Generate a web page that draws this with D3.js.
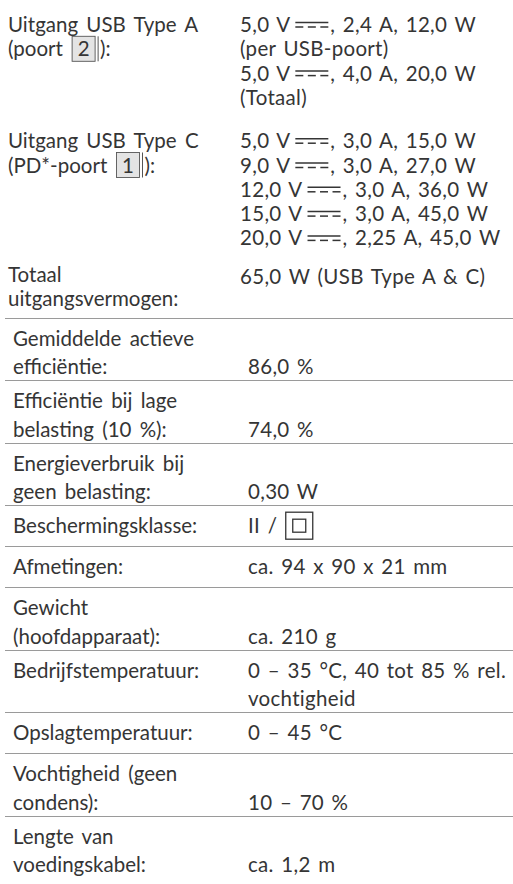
<!DOCTYPE html>
<html>
<head>
<meta charset="utf-8">
<script src="https://cdn.jsdelivr.net/npm/d3@7"></script>
<style>
  html, body { margin: 0; padding: 0; background: #fff; }
  svg text { font-family: Lato, "Noto Sans", sans-serif; font-size: 20.5px; fill: #353535; }
  svg text.lab { word-spacing: 3px; }
  svg text.val { letter-spacing: 0.3px; word-spacing: 2px; }
</style>
</head>
<body>
<svg id="spec"></svg>
<script>
// {2} = boxed port number, ~ = DC symbol, [K2] = protection class II symbol
const topLabels = [
  ["Uitgang USB Type A", "(poort {2}):"],
  ["Uitgang USB Type C", "(PD*-poort {1}):"],
  ["Totaal", "uitgangsvermogen:"],
];
const topValues = [
  ["5,0 V~, 2,4 A, 12,0 W", "(per USB-poort)", "5,0 V~, 4,0 A, 20,0 W", "(Totaal)"],
  ["5,0 V~, 3,0 A, 15,0 W", "9,0 V~, 3,0 A, 27,0 W", "12,0 V~, 3,0 A, 36,0 W",
   "15,0 V~, 3,0 A, 45,0 W", "20,0 V~, 2,25 A, 45,0 W"],
  ["65,0 W (USB Type A & C)"],
];
const specLabels = [
  ["Gemiddelde actieve", "efficiëntie:"],
  ["Efficiëntie bij lage", "belasting (10 %):"],
  ["Energieverbruik bij", "geen belasting:"],
  ["Beschermingsklasse:"],
  ["Afmetingen:"],
  ["Gewicht", "(hoofdapparaat):"],
  ["Bedrijfstemperatuur:"],
  ["Opslagtemperatuur:"],
  ["Vochtigheid (geen", "condens):"],
  ["Lengte van", "voedingskabel:"],
];
const specValues = [
  ["86,0 %"],
  ["74,0 %"],
  ["0,30 W"],
  ["II / [K2]"],
  ["ca. 94 x 90 x 21 mm"],
  ["ca. 210 g"],
  ["0 – 35 °C, 40 tot 85 % rel.", "vochtigheid"],
  ["0 – 45 °C"],
  ["10 – 70 %"],
  ["ca. 1,2 m"],
];

const width = 513, height = 884;
const svg = d3.select("#spec").attr("width", width).attr("height", height);
const ink = "#353535", rule = "#9a9a9a";

// split a line into text / symbol pieces
function tokens(s) {
  return s.split(/(\{\d\}|~|\[K2\])/).filter((t) => t !== "");
}

function drawLine(g, str, x, y, cls) {
  for (const t of tokens(str)) {
    if (t === "~") {
      // DC symbol: solid line over three dashes
      x += 5;
      const w = 33;
      g.append("line").attr("x1", x).attr("x2", x + w)
        .attr("y1", y - 9.5).attr("y2", y - 9.5)
        .attr("stroke", ink).attr("stroke-width", 1.5);
      for (let i = 0; i < 3; i++) {
        g.append("line")
          .attr("x1", x + i * 12.5).attr("x2", x + i * 12.5 + 8)
          .attr("y1", y - 5).attr("y2", y - 5)
          .attr("stroke", ink).attr("stroke-width", 1.5);
      }
      x += w + 2;
    } else if (/^\{\d\}$/.test(t)) {
      const n = t.slice(1, 2);
      const bw = 23, bh = 25;
      g.append("rect").attr("x", x + 1).attr("y", y - 20)
        .attr("width", bw).attr("height", bh)
        .attr("fill", "#e4e4e4").attr("stroke", "#555").attr("stroke-width", 0.9);
      g.append("line").attr("x1", x + bw + 4).attr("x2", x + bw + 4)
        .attr("y1", y - 20).attr("y2", y + 5)
        .attr("stroke", "#555").attr("stroke-width", 1);
      g.append("text").attr("x", x + 1 + bw / 2).attr("y", y)
        .attr("text-anchor", "middle").text(n);
      x += bw + 6;
    } else if (t === "[K2]") {
      const s = 27;
      g.append("rect").attr("x", x + 1).attr("y", y - 21)
        .attr("width", s).attr("height", s)
        .attr("fill", "none").attr("stroke", ink).attr("stroke-width", 1.3);
      g.append("rect").attr("x", x + 1 + 7).attr("y", y - 21 + 7)
        .attr("width", s - 14).attr("height", s - 14)
        .attr("fill", "none").attr("stroke", ink).attr("stroke-width", 1.3);
      x += s + 2;
    } else {
      const el = g.append("text").attr("class", cls)
        .attr("x", x).attr("y", y)
        .attr("xml:space", "preserve").style("white-space", "pre").text(t);
      x += el.node().getComputedTextLength();
    }
  }
}

// ---- upper block: port outputs (no rules between groups)
const topG = svg.append("g");
const xL = 8, xR = 240, lh = 24.3;
const gaps = [19, 12];
let y0 = 32;
topLabels.forEach((lab, i) => {
  lab.forEach((s, k) => drawLine(topG, s, xL, y0 + k * lh, "lab"));
  const vals = topValues[i];
  const off = i === 2 ? 2 : 0;
  vals.forEach((s, k) => drawLine(topG, s, xR, y0 + off + k * lh, "val"));
  const n = Math.max(lab.length, vals.length);
  if (i < topLabels.length - 1) y0 += lh * n + gaps[i];
  else y0 += 24;
});

// ---- lower block: table with horizontal rules
const tableTop = y0 + 12;
const rowH = (n) => 41 + 21.5 * (n - 1);
const tops = [];
let acc = tableTop;
specLabels.forEach((lab, i) => {
  tops.push(acc);
  acc += rowH(Math.max(lab.length, specValues[i].length));
});

const tab = svg.append("g");
tab.selectAll("line.rule")
  .data(tops)
  .join("line")
  .attr("class", "rule")
  .attr("x1", 5).attr("x2", width)
  .attr("y1", (d) => Math.round(d) + 0.5).attr("y2", (d) => Math.round(d) + 0.5)
  .attr("stroke", rule).attr("stroke-width", 1.2);

const xLab = 13, xVal = 248, cellLh = 28.5, base = 28;
specLabels.forEach((lab, i) => {
  const n = Math.max(lab.length, specValues[i].length);
  const t = tops[i];
  lab.forEach((s, k) => drawLine(tab, s, xLab, t + base + k * cellLh, "lab"));
  const vals = specValues[i];
  const start = n - vals.length;
  vals.forEach((s, k) => drawLine(tab, s, xVal, t + base + (start + k) * cellLh, "val"));
});
</script>
</body>
</html>
